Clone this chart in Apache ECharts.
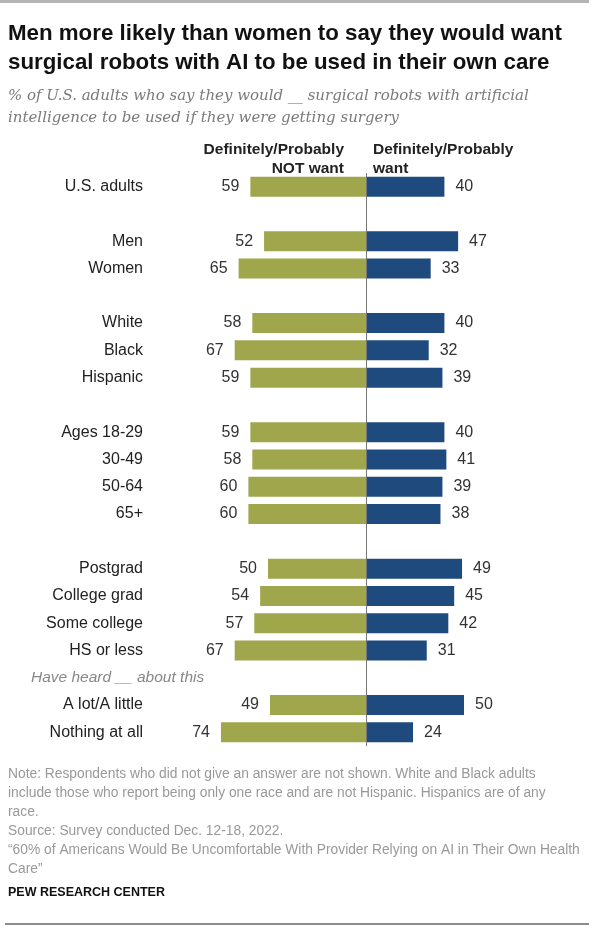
<!DOCTYPE html>
<html>
<head>
<meta charset="utf-8">
<script src="https://cdn.jsdelivr.net/npm/echarts@6/dist/echarts.min.js"></script>
<style>
  html, body { margin: 0; padding: 0; background: #fff; }
  #main { width: 589px; height: 930px; }
</style>
</head>
<body>
<div id="main"></div>
<script>
// rows, top to bottom; '' = spacer row, 'HEAD' = italic group heading
var categories = ['U.S. adults', '', 'Men', 'Women', '', 'White', 'Black', 'Hispanic', '',
    'Ages 18-29', '30-49', '50-64', '65+', '', 'Postgrad', 'College grad', 'Some college',
    'HS or less', 'HEAD', 'A lot/A little', 'Nothing at all'];
var notWant = [59, null, 52, 65, null, 58, 67, 59, null, 59, 58, 60, 60, null, 50, 54, 57, 67, null, 49, 74];
var want = [40, null, 47, 33, null, 40, 32, 39, null, 40, 41, 39, 38, null, 49, 45, 42, 31, null, 50, 24];
var groupHeading = 'Have heard __ about this';

var GREEN = '#9fa64b', BLUE = '#1f4a7e';
var SANS = '"Liberation Sans", Arial, sans-serif';

(function () {
    var axisData = categories.map(function (c, i) { return c === '' ? 'gap' + i : c; });

    function d(arr, sign) {
        return arr.map(function (v) { return v == null ? '-' : sign * v; });
    }

    var option = {
        animation: false,
        backgroundColor: '#fff',
        title: [{
            text: 'Men more likely than women to say they would want\nsurgical robots with AI to be used in their own care',
            left: 3, top: 14,
            textStyle: { fontFamily: SANS, fontSize: 22.3, fontWeight: 'bold', color: '#111', lineHeight: 29 }
        }, {
            text: '% of U.S. adults who say they would __ surgical robots with artificial\nintelligence to be used if they were getting surgery',
            left: 3, top: 80,
            textStyle: { fontFamily: '"DejaVu Serif", serif', fontStyle: 'italic', fontSize: 15, fontWeight: 'normal', color: '#7a7a7a', lineHeight: 22 }
        }, {
            text: 'Note: Respondents who did not give an answer are not shown. White and Black adults\ninclude those who report being only one race and are not Hispanic. Hispanics are of any\nrace.\nSource: Survey conducted Dec. 12-18, 2022.\n\u201c60% of Americans Would Be Uncomfortable With Provider Relying on AI in Their Own Health\nCare\u201d',
            left: 3, top: 760,
            textStyle: { fontFamily: SANS, fontSize: 13.8, fontWeight: 'normal', color: '#999', lineHeight: 19 }
        }, {
            text: 'PEW RESEARCH CENTER',
            left: 3, top: 881,
            textStyle: { fontFamily: SANS, fontSize: 12.5, fontWeight: 'bold', color: '#111' }
        }],
        graphic: [
            { type: 'rect', shape: { x: 0, y: 0, width: 589, height: 3 }, style: { fill: '#b5b5b5' } },
            { type: 'rect', shape: { x: 5, y: 923, width: 584, height: 2 }, style: { fill: '#8c8c8c' } },
            {
                type: 'text', x: 344, y: 159.5,
                style: {
                    text: 'Definitely/Probably\nNOT want', align: 'right', verticalAlign: 'middle',
                    font: 'bold 15.5px ' + SANS, lineHeight: 19, fill: '#222'
                }
            },
            {
                type: 'text', x: 373, y: 159.5,
                style: {
                    text: 'Definitely/Probably\nwant', align: 'left', verticalAlign: 'middle',
                    font: 'bold 15.5px ' + SANS, lineHeight: 19, fill: '#222'
                }
            }
        ],
        grid: { left: 170, right: 27, top: 173, height: 573, containLabel: false },
        xAxis: { type: 'value', min: -100, max: 100, show: false },
        yAxis: {
            type: 'category',
            inverse: true,
            data: axisData,
            axisLine: { show: false },
            axisTick: { show: false },
            splitLine: { show: false },
            axisLabel: {
                margin: 27,
                fontFamily: SANS,
                fontSize: 16,
                color: '#222',
                formatter: function (v) {
                    if (v.indexOf('gap') === 0) return '';
                    if (v === 'HEAD') return '{h|' + groupHeading + '}';
                    return v;
                },
                rich: {
                    h: { width: 112, align: 'left', overflow: 'none', fontFamily: SANS, fontStyle: 'italic', fontSize: 15.5, color: '#888' }
                }
            }
        },
        series: [{
            name: 'Definitely/Probably NOT want',
            type: 'bar',
            data: d(notWant, -1),
            barWidth: 20,
            barGap: '-100%',
            itemStyle: { color: GREEN },
            label: {
                show: true, position: 'left', distance: 11,
                fontFamily: SANS, fontSize: 16, color: '#333',
                formatter: function (p) { return Math.abs(p.value); }
            }
        }, {
            name: 'Definitely/Probably want',
            type: 'bar',
            data: d(want, 1),
            barWidth: 20,
            itemStyle: { color: BLUE },
            label: {
                show: true, position: 'right', distance: 11,
                fontFamily: SANS, fontSize: 16, color: '#333'
            },
            markLine: {
                silent: true,
                symbol: 'none',
                label: { show: false },
                lineStyle: { color: '#777', width: 1, type: 'solid' },
                data: [{ xAxis: 0 }]
            }
        }]
    };

    echarts.init(document.getElementById('main')).setOption(option);
})();
</script>
</body>
</html>
